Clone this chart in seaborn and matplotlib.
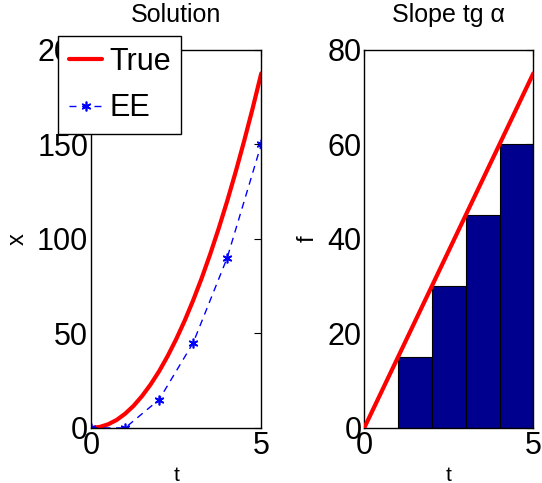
import matplotlib
matplotlib.use("Agg")
import matplotlib.pyplot as plt
import seaborn as sns
import pandas as pd

sns.set_style("white")
plt.rcParams['font.family'] = ['Liberation Sans', 'DejaVu Sans']
plt.rcParams['text.color'] = 'black'
plt.rcParams['xtick.color'] = 'black'
plt.rcParams['ytick.color'] = 'black'
plt.rcParams['axes.labelcolor'] = 'black'

# exact solution
t_true = [0, 0.25, 0.5, 0.75, 1, 1.25, 1.5, 1.75, 2, 2.25, 2.5,
          2.75, 3, 3.25, 3.5, 3.75, 4, 4.25, 4.5, 4.75, 5]
x_true = [0, 0.5, 1.9, 4.2, 7.5, 11.7, 16.9, 23, 30, 38, 46.9,
          56.7, 67.5, 79.2, 91.9, 105.5, 120, 135.5, 151.9, 169.2, 187.5]

# explicit Euler points
t_ee = [0, 1, 2, 3, 4, 5]
x_ee = [0, 0, 15, 45, 90, 150]

# slope line and step bars
t_slope = [0, 5]
f_slope = [0, 75]
bar_left = [1, 2, 3, 4]
bar_height = [15, 30, 45, 60]

fig = plt.figure(figsize=(5.42, 4.83), dpi=100)
ax1 = fig.add_axes([0.168, 0.114, 0.314, 0.783])
ax2 = fig.add_axes([0.672, 0.114, 0.312, 0.783])

df_true = pd.DataFrame({'t': t_true, 'x': x_true})
df_ee = pd.DataFrame({'t': t_ee, 'x': x_ee})

sns.lineplot(data=df_true, x='t', y='x', ax=ax1, color='red', linewidth=3, label='True')
ax1.plot(df_ee.t, df_ee.x, color='blue', linestyle='--', linewidth=1,
         marker=(6, 2, 0), markersize=7, markeredgewidth=1.2, label='EE', dashes=(5, 4))

ax1.set(xlim=(0, 5), ylim=(0, 200), xticks=[0, 5], yticks=[0, 50, 100, 150, 200])
ax1.set_title('Solution', fontsize=18, pad=20)
ax1.set_xlabel('t', fontsize=15, labelpad=4)
ax1.set_ylabel('x', fontsize=17, labelpad=6)

ax2.bar(bar_left, bar_height, width=1, align='edge', color='#00008f',
        edgecolor='black', linewidth=0.8, zorder=1)
sns.lineplot(x=t_slope, y=f_slope, ax=ax2, color='red', linewidth=3, zorder=3)
ax2.set(xlim=(0, 5), ylim=(0, 80), xticks=[0, 5], yticks=[0, 20, 40, 60, 80])
ax2.set_title('Slope tg α', fontsize=18, pad=20)
ax2.set_xlabel('t', fontsize=15, labelpad=4)
ax2.set_ylabel('f', fontsize=17, labelpad=6)

for ax in (ax1, ax2):
    ax.tick_params(direction='in', length=5, width=0.8, labelsize=22,
                   top=True, right=True, pad=2)
    for s in ax.spines.values():
        s.set_color('black')
        s.set_linewidth(1)

leg = ax1.legend(loc='upper left', bbox_to_anchor=(58 / 542, 1 - 36 / 483),
                 bbox_transform=fig.transFigure, fontsize=22, frameon=True,
                 fancybox=False, edgecolor='black', borderpad=0.35,
                 handlelength=1.1, handletextpad=0.22, labelspacing=0.55,
                 borderaxespad=0)
leg.get_frame().set_linewidth(1)
leg.get_frame().set_alpha(1)

fig.savefig('out.png', dpi=100)
